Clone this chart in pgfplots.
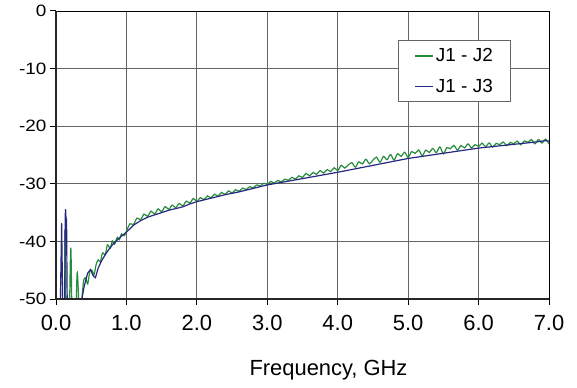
\documentclass[border=0pt]{standalone}
\usepackage{pgfplots}
\pgfplotsset{compat=1.18}
\usepackage{fontspec}
\setmainfont{Liberation Sans}
\usepackage{graphicx}
\definecolor{cgreen}{RGB}{40,140,60}
\definecolor{cblue}{RGB}{40,40,130}
\begin{document}
\begin{tikzpicture}
\begin{axis}[
  scale only axis, width=493bp, height=288bp,
  xmin=0, xmax=7, ymin=-50, ymax=0,
  xtick={0,1,...,7}, ytick={-50,-40,...,0},
  xtick pos=left, ytick pos=left, tick align=outside,
  major tick length=6bp,
  tick style={black, line width=1bp},
  grid=major, major grid style={draw=black!60, line width=0.9bp},
  axis line style={black, line width=0.9bp},
  /pgf/number format/assume math mode=true,
  xticklabel style={font=\fontsize{22}{26}\selectfont, yshift=-7bp, /pgf/number format/.cd, fixed, fixed zerofill, precision=1},
  yticklabel={\scalebox{1.15}[1]{\pgfmathprintnumber{\tick}}},
  yticklabel style={font=\fontsize{16.5}{19}\selectfont},
  xlabel={Frequency, GHz},
  xlabel style={font=\fontsize{22}{26}\selectfont, xshift=26bp, yshift=-22bp},
  legend style={at={(rel axis cs:0.694,0.899)}, anchor=north west,
    font=\fontsize{19}{22}\selectfont, draw=black!60, line width=0.9bp,
    inner xsep=16bp, inner ysep=6bp, row sep=12bp,
    nodes={inner xsep=2bp}},
  legend image code/.code={\draw[#1, line width=1.4bp] (0bp,0bp) -- (18bp,0bp);},
  legend cell align=left,
  clip=true,
]
\addplot[cgreen, line width=1.2bp, smooth] coordinates {
(0.00,-60) (0.11,-60) (0.13,-38) (0.15,-60) (0.18,-60) (0.21,-41.1) (0.235,-60) (0.27,-60)
(0.30,-45.5) (0.33,-52) (0.36,-51) (0.39,-47) (0.42,-46.3) (0.45,-47.4) (0.48,-45.2) (0.51,-45.0)
(0.54,-45.8) (0.57,-44.0) (0.60,-43.2) (0.63,-43.6) (0.66,-42.0) (0.70,-42.3) (0.73,-40.6) (0.77,-41.2)
(0.80,-39.9) (0.83,-40.5) (0.87,-39.3) (0.90,-39.7) (0.93,-38.7) (0.97,-39.0)
(1.00,-38.25) (1.05,-36.95) (1.10,-37.05) (1.15,-35.95) (1.20,-36.25) (1.25,-35.25) (1.30,-35.65)
(1.35,-34.75) (1.40,-35.25) (1.45,-34.35) (1.50,-34.85) (1.55,-33.95) (1.60,-34.45) (1.65,-33.70)
(1.70,-34.15) (1.75,-33.40) (1.80,-33.85) (1.85,-33.00) (1.90,-33.35) (1.95,-32.55) (2.00,-33.05)
(2.05,-32.40) (2.10,-32.75) (2.15,-32.10) (2.20,-32.45) (2.25,-31.80) (2.30,-32.15) (2.35,-31.50)
(2.40,-31.85) (2.45,-31.23) (2.50,-31.60) (2.55,-31.02) (2.60,-31.30) (2.65,-30.75) (2.70,-31.00)
(2.75,-30.50) (2.80,-30.70) (2.85,-30.20) (2.90,-30.40) (2.95,-29.90) (3.00,-30.10) (3.05,-29.59)
(3.10,-29.88) (3.15,-29.42) (3.20,-29.66) (3.25,-29.20) (3.30,-29.39) (3.35,-28.88) (3.40,-29.17)
(3.45,-28.61) (3.50,-28.90) (3.55,-28.19) (3.60,-28.63) (3.65,-28.02) (3.70,-28.36) (3.75,-27.70)
(3.80,-28.14) (3.85,-27.53) (3.90,-27.87) (3.95,-27.21) (4.00,-27.70) (4.05,-26.78) (4.10,-27.26)
(4.15,-26.74) (4.20,-26.32) (4.25,-27.10) (4.30,-26.18) (4.35,-26.56) (4.40,-25.74) (4.45,-26.52)
(4.50,-25.90) (4.55,-25.38) (4.60,-26.26) (4.65,-25.24) (4.70,-25.82) (4.75,-24.90) (4.80,-25.88)
(4.85,-24.76) (4.90,-25.24) (4.95,-24.52) (5.00,-25.40) (5.05,-24.41) (5.10,-24.72) (5.15,-24.13)
(5.20,-25.14) (5.25,-24.15) (5.30,-24.56) (5.35,-23.87) (5.40,-24.58) (5.45,-23.59) (5.50,-24.80)
(5.55,-23.71) (5.60,-23.92) (5.65,-23.33) (5.70,-24.14) (5.75,-23.35) (5.80,-23.76) (5.85,-23.07)
(5.90,-23.78) (5.95,-23.19) (6.00,-23.50) (6.05,-22.94) (6.10,-23.57) (6.15,-22.91) (6.20,-23.64)
(6.25,-22.98) (6.30,-23.21) (6.35,-22.75) (6.40,-23.38) (6.45,-22.82) (6.50,-23.05) (6.55,-22.59)
(6.60,-23.22) (6.65,-22.56) (6.70,-22.79) (6.75,-22.33) (6.80,-23.06) (6.85,-22.30) (6.90,-22.93)
(6.95,-22.25) (7.00,-23.10)
};
\addlegendentry{J1 - J2}
\addplot[cblue, line width=1.2bp] coordinates {
(0.00,-60) (0.05,-60) (0.08,-36.8) (0.105,-60) (0.12,-60) (0.13,-36) (0.135,-34.4) (0.14,-35)
(0.145,-40) (0.15,-36) (0.165,-60) (0.19,-52) (0.21,-60) (0.36,-50.5) (0.40,-47.8) (0.45,-45.5)
(0.49,-44.9) (0.53,-46.0) (0.56,-46.3) (0.60,-44.6) (0.65,-43.3) (0.70,-42.3) (0.75,-41.4)
(0.80,-40.6) (0.85,-40.0) (0.90,-39.4) (0.95,-38.9) (1.0,-38.4) (1.1,-37.2) (1.2,-36.4) (1.3,-35.8)
(1.4,-35.4) (1.5,-35.0) (1.6,-34.6) (1.7,-34.3) (1.8,-34.0) (1.9,-33.5) (2.0,-33.1) (2.2,-32.5)
(2.4,-31.9) (2.6,-31.4) (2.8,-30.8) (3.0,-30.2) (3.2,-29.76) (3.4,-29.32) (3.6,-28.88) (3.8,-28.44)
(4.0,-28.0) (4.2,-27.52) (4.4,-27.04) (4.6,-26.56) (4.8,-26.08) (5.0,-25.6) (5.2,-25.24) (5.4,-24.88)
(5.6,-24.52) (5.8,-24.16) (6.0,-23.8) (6.2,-23.54) (6.4,-23.28) (6.6,-23.02) (6.8,-22.76)
(6.95,-22.5) (7.0,-22.6)
};
\addlegendentry{J1 - J3}
\end{axis}
\draw[black!85, line width=2.2bp] (0,288bp) -- (0,0) -- (493bp,0);
\path (-56bp,-89bp) rectangle (521bp,299bp);
\end{tikzpicture}
\end{document}
